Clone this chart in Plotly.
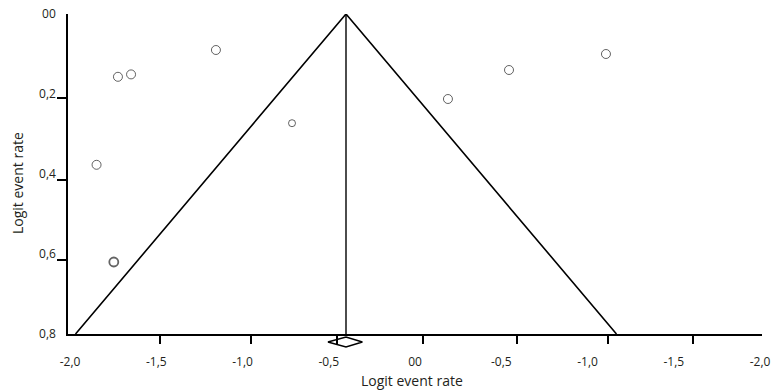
import plotly.graph_objects as go

# ---- data ----
x_label_vals = [-2.0, -1.5, -1.0, -0.5, 0.0, 0.5, 1.0, 1.5, 2.0]
x_label_text = ["-2,0", "-1,5", "-1,0", "-0,5", "00", "-0,5", "-1,0", "-1,5", "-2,0"]
x_tick_marks = [-1.478, -0.951, -0.45, 0.046, 0.591, 1.119, 1.612]

y_label_vals = [0.0, 0.2, 0.4, 0.6, 0.8]
y_label_text = ["00", "0,2", "0,4", "0,6", "0,8"]
y_tick_marks = [0.21, 0.415, 0.615]

study_x = [-1.154, -1.722, -1.646, -1.846, -1.746, -0.713, 0.191, 0.545, 1.107]
study_y = [0.090, 0.157, 0.151, 0.377, 0.620, 0.273, 0.2125, 0.140, 0.100]
study_size = [9, 9, 9, 9, 9, 7, 9, 9, 9]
study_lw = [1, 1, 1, 1, 1.8, 1, 1, 1, 1]

pooled_est = -0.4
pooled_ci = [-0.505, -0.305]
max_se = 0.8
z = 1.96

INK = "#231f20"
FONT = "Open Sans"
TITLE = "Logit event rate"

# funnel limits
fx = [pooled_est - z * max_se, pooled_est, pooled_est + z * max_se]
fy = [max_se, 0.0, max_se]

fig = go.Figure()

fig.add_trace(go.Scatter(x=fx, y=fy, mode="lines",
                         line=dict(color="black", width=1.6),
                         xaxis="x", yaxis="y", hoverinfo="skip", showlegend=False))
fig.add_trace(go.Scatter(x=[pooled_est, pooled_est], y=[0.0, max_se], mode="lines",
                         line=dict(color="black", width=1.4),
                         xaxis="x2", yaxis="y2", hoverinfo="skip", showlegend=False))
fig.add_trace(go.Scatter(x=study_x, y=study_y, mode="markers",
                         marker=dict(symbol="circle-open", size=study_size, color="#222222",
                                     line=dict(width=study_lw)),
                         xaxis="x", yaxis="y", showlegend=False))
# pooled diamond
fig.add_trace(go.Scatter(x=[pooled_ci[0], pooled_est, pooled_ci[1], pooled_est, pooled_ci[0]],
                         y=[0, 0.5, 0, -0.5, 0], mode="lines",
                         line=dict(color="black", width=1.5),
                         xaxis="x", yaxis="y3", hoverinfo="skip", showlegend=False))

W, H = 772, 390
top, plot_bottom, axis_px = 14, 352, 334
ph = plot_bottom - top
ydom0 = (plot_bottom - axis_px) / ph
px_per_unit = 172.5
xr = [-2 - 2 / px_per_unit, 2 + 2 / px_per_unit]

tickfont = dict(family=FONT, size=12, color=INK)
titlefont = dict(family=FONT, size=14, color=INK)

fig.update_layout(
    width=W, height=H,
    margin=dict(l=68, r=10, t=top, b=H - plot_bottom, autoexpand=False),
    paper_bgcolor="white", plot_bgcolor="white",
    showlegend=False,
    xaxis=dict(range=xr, tickmode="array", tickvals=x_label_vals, ticktext=x_label_text,
               ticks="", showline=True, linecolor="black", linewidth=1.5,
               showgrid=False, zeroline=False, tickfont=tickfont, ticklabelstandoff=16,
               automargin=False, anchor="y"),
    xaxis2=dict(range=xr, overlaying="x", anchor="y", side="bottom", matches="x",
                tickmode="array", tickvals=x_tick_marks, ticks="outside", ticklen=9,
                tickwidth=1.6, tickcolor="black", showticklabels=False,
                showline=False, showgrid=False, zeroline=False, automargin=False),
    yaxis=dict(range=[0.8, 0.0], domain=[ydom0, 1], tickmode="array",
               tickvals=y_label_vals, ticktext=y_label_text, ticks="",
               showline=True, linecolor="black", linewidth=1.5, showgrid=False,
               zeroline=False, tickfont=tickfont, ticklabelstandoff=8,
               automargin=False, anchor="x"),
    yaxis2=dict(range=[0.8, 0.0], domain=[ydom0, 1], overlaying="y", anchor="x",
                side="left", matches="y", tickmode="array", tickvals=y_tick_marks,
                ticks="outside", ticklen=10, tickwidth=1.6, tickcolor="black",
                showticklabels=False, showline=False, showgrid=False, zeroline=False,
                automargin=False),
    yaxis3=dict(range=[-1.0, 0.8], domain=[0, ydom0], anchor="x", visible=False,
                showgrid=False, zeroline=False, automargin=False),
    annotations=[
        dict(text=TITLE, font=titlefont, showarrow=False, xref="paper", yref="paper",
             x=0.495, y=(plot_bottom - 380) / ph, xanchor="center", yanchor="middle"),
        dict(text=TITLE, font=titlefont, showarrow=False, xref="paper", yref="paper",
             textangle=-90, x=(17 - 68) / (W - 78), y=(plot_bottom - 183) / ph,
             xanchor="center", yanchor="middle"),
    ],
)

fig.write_html("out.html", config={"displayModeBar": False},
               post_script="document.body.style.margin='0';document.body.style.overflow='hidden';")
